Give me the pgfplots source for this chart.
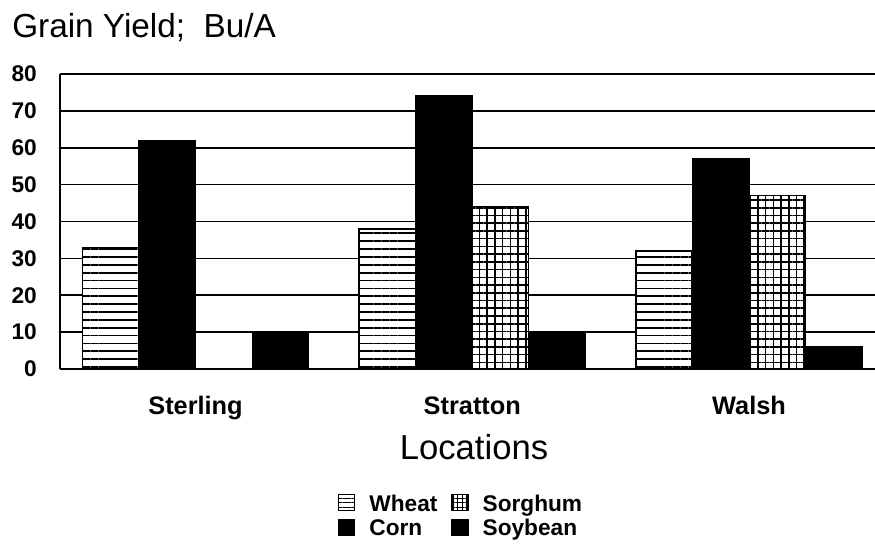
\documentclass[border=0pt]{standalone}
\usepackage{fontspec}
\setmainfont{Liberation Sans}
\usepackage{pgfplots}
\pgfplotsset{compat=1.18}
\usetikzlibrary{patterns.meta}

\begin{document}
\begin{tikzpicture}
\begin{axis}[
  scale only axis,
  width=611.25pt, height=221.25pt,
  at={(0,0)}, anchor=south west,
  xmin=-0.4896, xmax=2.455,
  ymin=0, ymax=80,
  ytick={0,10,...,80},
  xtick={0,1,2},
  xticklabels={Sterling,Stratton,Walsh},
  axis lines=left,
  axis line style={-, line width=1.2pt, black},
  major tick length=0pt,
  ymajorgrids,
  grid style={black, line width=1.2pt},
  /pgf/number format/assume math mode=true,
  yticklabel style={font=\bfseries\fontsize{17pt}{18pt}\selectfont, anchor=east, inner sep=0pt, xshift=-17.25pt},
  xticklabel style={font=\bfseries\fontsize{19pt}{21pt}\selectfont, anchor=base, yshift=-34.5pt},
  xlabel={Locations},
  xlabel style={font=\fontsize{26pt}{28pt}\selectfont, at={(axis description cs:0.508,-0.308)}, anchor=base},
  legend columns=2,
  transpose legend,
  legend cell align=left,
  legend style={at={(axis description cs:0.3411,-0.417)}, anchor=north west, draw=none, fill=none, inner sep=0pt,
    font=\bfseries\fontsize{17pt}{19pt}\selectfont,
    /tikz/every odd column/.append style={column sep=8.5pt},
    /tikz/every even column/.append style={column sep=8.5pt},
    row sep=0.5pt},
  legend image code/.code={\draw[#1, line width=0.9pt] (0pt,-5pt) rectangle (12pt,7pt);},
]
% Wheat
\addplot[ybar, forget plot, bar width=0.203, bar shift=-0.3075, draw=black, line width=1.1pt, fill=white,
  postaction={pattern={Lines[angle=0,distance=5.9pt,line width=1.3pt]}}] coordinates {(0,33) (1,38) (2,32)};
% Corn
\addplot[ybar, forget plot, bar width=0.203, bar shift=-0.1025, draw=black, line width=1.1pt, fill=black]
  coordinates {(0,62) (1,74) (2,57)};
% Sorghum
\addplot[ybar, forget plot, bar width=0.203, bar shift=0.1025, draw=black, line width=1.1pt, fill=white,
  postaction={pattern={Hatch[angle=0,distance=5.8pt,line width=1.2pt]}}] coordinates {(1,44) (2,47)};
% Soybean
\addplot[ybar, forget plot, bar width=0.203, bar shift=0.3075, draw=black, line width=1.1pt, fill=black]
  coordinates {(0,10) (1,10) (2,6)};

\addlegendimage{draw=black, fill=white, postaction={pattern={Lines[angle=0,distance=3.4pt,line width=0.9pt]}}}
\addlegendentry{Wheat}
\addlegendimage{draw=black, fill=black}
\addlegendentry{Corn}
\addlegendimage{draw=black, fill=white, postaction={pattern={Hatch[angle=0,distance=3.4pt,line width=0.9pt]}}}
\addlegendentry{Sorghum}
\addlegendimage{draw=black, fill=black}
\addlegendentry{Soybean}
\end{axis}
\node[anchor=base west, font=\fontsize{25pt}{27pt}\selectfont, inner sep=0pt] at (-36pt,248.25pt) {Grain Yield;\ \ Bu/A};
\pgfresetboundingbox
\path[use as bounding box] (-45pt,-134.25pt) rectangle (611.25pt,276.75pt);
\end{tikzpicture}
\end{document}
